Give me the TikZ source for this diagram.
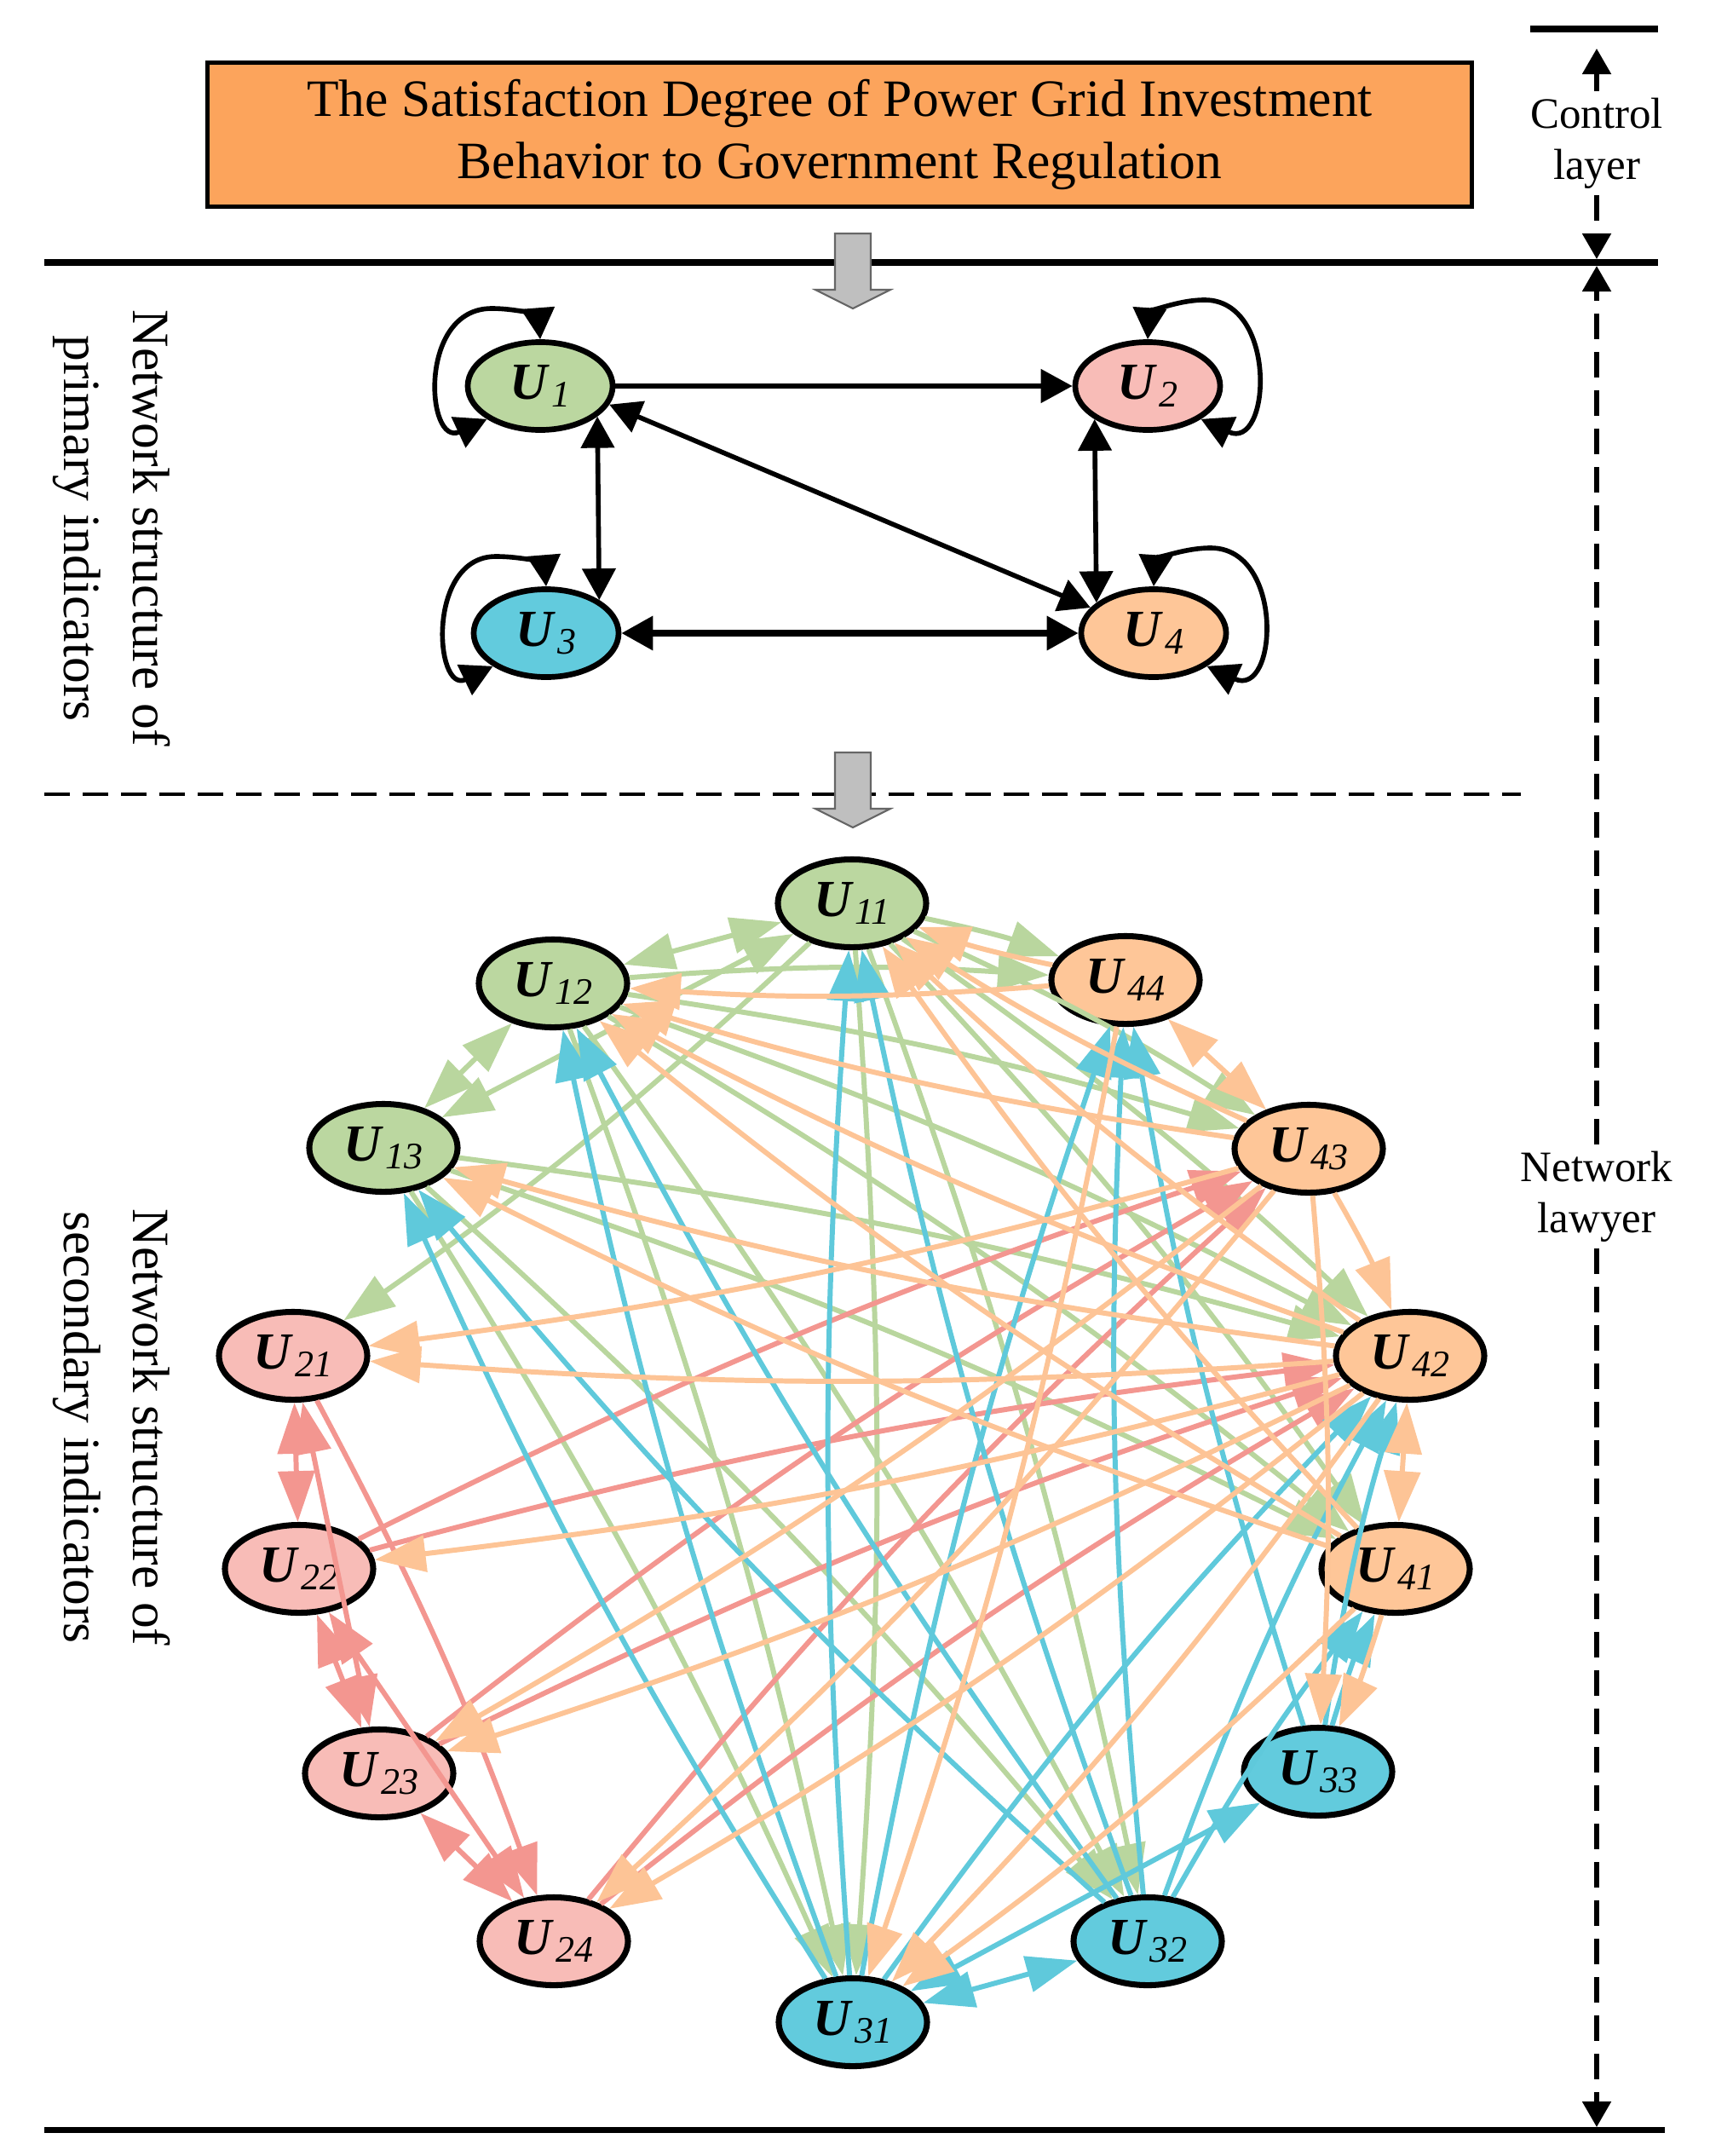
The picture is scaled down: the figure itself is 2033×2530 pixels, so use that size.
\documentclass[tikz,border=0pt]{standalone}
\usepackage{fontspec}
\setmainfont{Liberation Serif}
\usetikzlibrary{arrows.meta,shapes.geometric}
\definecolor{boxorange}{RGB}{252,164,92}
\definecolor{gfill}{RGB}{187,215,160}
\definecolor{pfill}{RGB}{248,188,183}
\definecolor{cfill}{RGB}{98,203,221}
\definecolor{ofill}{RGB}{254,198,152}
\definecolor{gline}{RGB}{185,214,158}
\definecolor{pline}{RGB}{243,150,144}
\definecolor{cline}{RGB}{95,201,219}
\definecolor{oline}{RGB}{253,196,150}
\newcommand{\ulab}[1]{\textbf{\textit{U}}\kern0.4pt\raisebox{-2.6pt}{\fontsize{12.5pt}{12.5pt}\selectfont\textit{#1}}}

\begin{document}
\begin{tikzpicture}[
        x=0.01cm, y=-0.01cm,
        every node/.style={inner sep=0pt},
        ind/.style={ellipse, draw=black, line width=2pt, minimum width=1.74cm, minimum height=1.03cm, font=\fontsize{17.4pt}{18pt}\selectfont},
        prim/.style={ind, line width=1.9pt, minimum width=1.70cm},
        goalbox/.style={draw, line width=1.4pt, fill=boxorange, minimum width=14.83cm, minimum height=1.69cm, align=center, font=\fontsize{17.5pt}{20.8pt}\selectfont},
        sidetext/.style={rotate=-90, align=center, font=\fontsize{17.5pt}{23pt}\selectfont},
        sidenote/.style={align=center, inner sep=0.07cm, font=\fontsize{14.5pt}{17pt}\selectfont},
        rule/.style={line width=2pt},
        ruledash/.style={line width=1.3pt, dash pattern=on 0.3cm off 0.15cm},
        vline/.style={line width=1.5pt, >={Triangle[length=0.3cm,width=0.33cm]}},
        vdash/.style={vline, dash pattern=on 0.3cm off 0.15cm},
        grayarrow/.style={draw=black!60, line width=0.6pt, fill=black!25},
        blackedge/.style={line width=1.6pt, >={Triangle[length=10.5pt,width=11pt]}},
        gedge/.style={draw=gline, line width=1.7pt, ->, bend left=4},
        pedge/.style={draw=pline, line width=1.7pt, ->, bend left=4},
        cedge/.style={draw=cline, line width=1.7pt, ->, bend left=4},
        oedge/.style={draw=oline, line width=1.7pt, ->, bend left=4},
        gboth/.style={draw=gline, line width=1.7pt, <->},
        pboth/.style={draw=pline, line width=1.7pt, <->},
        cboth/.style={draw=cline, line width=1.7pt, <->},
        oboth/.style={draw=oline, line width=1.7pt, <->}
    ]
    \useasboundingbox (0,0) rectangle (2033,2530);

    % control layer
    \node[goalbox] (goal) at (985.5,158) {The Satisfaction Degree of Power Grid Investment\\Behavior to Government Regulation};
    \node[sidenote] (ctrl) at (1874,168) {Control\\layer};
    \node[sidenote] (netw) at (1874,1404) {Network\\lawyer};
    \node[sidetext] (primtxt) at (131,620) {Network structure of\\primary indicators};
    \node[sidetext] (sectxt) at (131,1675) {Network structure of\\secondary indicators};

    \coordinate (t1) at (1796,34);
    \coordinate (t2) at (1946,34);
    \coordinate (a1) at (52,308);
    \coordinate (a2) at (1946,308);
    \coordinate (d1) at (52,932);
    \coordinate (d2) at (1785,932);
    \coordinate (b1) at (52,2499);
    \coordinate (b2) at (1954,2499);
    \draw[rule] (t1) -- (t2);
    \draw[rule] (a1) -- (a2);
    \draw[ruledash] (d1) -- (d2);
    \draw[rule] (b1) -- (b2);

    \coordinate (c0) at (1874,57);
    \coordinate (c1) at (1874,304);
    \coordinate (c2) at (1874,312);
    \coordinate (c3) at (1874,2496);
    \draw[vline, ->] (ctrl.north) -- (c0);
    \draw[vdash, ->] (ctrl.south) -- (c1);
    \draw[vdash, ->] (netw.north) -- (c2);
    \draw[vdash, ->] (netw.south) -- (c3);

    \foreach \y in {274,883}
        \draw[grayarrow] (980,\y) -- ++(42,0) -- ++(0,66) -- ++(23,0) -- ++(-44,22) -- ++(-44,-22) -- ++(23,0) -- cycle;

    % primary indicators
    \node[prim, fill=gfill] (U1) at (634,453) {\ulab{1}};
    \node[prim, fill=pfill] (U2) at (1347,453) {\ulab{2}};
    \node[prim, fill=cfill] (U3) at (641,743) {\ulab{3}};
    \node[prim, fill=ofill] (U4) at (1354,743) {\ulab{4}};
    \draw[blackedge, ->] (U1.east) -- (U2.west);
    \draw[blackedge, <->] (U1.-28) -- (U3.32);
    \draw[blackedge, <->] (U2.212) -- (U4.152);
    \draw[blackedge, <->] (U1.-15) -- (U4.158);
    \draw[blackedge, <->, line width=2.2pt] (U3.east) -- (U4.west);
    \draw[blackedge, <->] (U1.south west) .. controls (500,525) and (490,362) .. (577,362) .. controls (610,362) and (632,372) .. (U1.north);
    \draw[blackedge, <->] (U2.south east) .. controls (1492,530) and (1500,352) .. (1414,352) .. controls (1380,352) and (1349,368) .. (U2.north);
    \draw[blackedge, <->] (U3.south west) .. controls (510,815) and (500,653) .. (582,653) .. controls (617,653) and (639,663) .. (U3.north);
    \draw[blackedge, <->] (U4.south east) .. controls (1500,820) and (1508,643) .. (1421,643) .. controls (1387,643) and (1356,658) .. (U4.north);

    % secondary indicators
    \begin{scope}[>={Triangle[length=17pt,width=12pt]}]
        \node[ind, fill=gfill] (U11) at (1000,1060) {\ulab{11}};
        \node[ind, fill=gfill] (U12) at (649,1154) {\ulab{12}};
        \node[ind, fill=gfill] (U13) at (450,1347) {\ulab{13}};
        \node[ind, fill=pfill] (U21) at (344,1591) {\ulab{21}};
        \node[ind, fill=pfill] (U22) at (351,1841) {\ulab{22}};
        \node[ind, fill=pfill] (U23) at (445,2081) {\ulab{23}};
        \node[ind, fill=pfill] (U24) at (650,2278) {\ulab{24}};
        \node[ind, fill=cfill] (U31) at (1001,2373) {\ulab{31}};
        \node[ind, fill=cfill] (U32) at (1347,2278) {\ulab{32}};
        \node[ind, fill=cfill] (U33) at (1547,2079) {\ulab{33}};
        \node[ind, fill=ofill] (U41) at (1638,1841) {\ulab{41}};
        \node[ind, fill=ofill] (U42) at (1655,1591) {\ulab{42}};
        \node[ind, fill=ofill] (U43) at (1536,1348) {\ulab{43}};
        \node[ind, fill=ofill] (U44) at (1321,1150) {\ulab{44}};

        % green
        \draw[gboth] (U11) -- (U12);
        \draw[gboth] (U12) -- (U13);
        \draw[gboth] (U11) -- (U13);
        \foreach \t in {U21,U31,U32,U41,U42,U43,U44}
            \draw[gedge] (U11) to (\t);
        \foreach \t in {U31,U32,U41,U42,U43,U44}
            \draw[gedge] (U12) to (\t);
        \foreach \t in {U31,U32,U41,U42}
            \draw[gedge] (U13) to (\t);

        % pink
        \draw[pboth] (U21) -- (U22);
        \draw[pboth] (U22) -- (U23);
        \draw[pboth] (U23) -- (U24);
        \draw[pboth] (U21) -- (U23);
        \draw[pboth] (U22) -- (U24);
        \draw[pedge] (U21) to (U24);
        \foreach \s in {U22,U23,U24} {
            \draw[pedge] (\s) to (U42);
            \draw[pedge] (\s) to (U43);
        }

        % cyan
        \draw[cboth] (U31) -- (U32);
        \draw[cboth] (U31) -- (U33);
        \foreach \t in {U11,U12,U13,U44,U42}
            \draw[cedge] (U31) to (\t);
        \foreach \t in {U11,U12,U13,U44,U42,U41}
            \draw[cedge] (U32) to (\t);
        \foreach \t in {U44,U42,U41}
            \draw[cedge] (U33) to (\t);

        % orange
        \draw[oboth] (U44) -- (U43);
        \draw[oboth] (U42) -- (U41);
        \draw[oedge] (U43) to (U42);
        \foreach \t in {U11,U12,U31}
            \draw[oedge] (U44) to (\t);
        \foreach \t in {U11,U12,U21,U23,U24,U33}
            \draw[oedge] (U43) to (\t);
        \foreach \t in {U11,U12,U13,U21,U22,U23,U24,U31}
            \draw[oedge] (U42) to (\t);
        \foreach \t in {U11,U12,U13,U31,U33}
            \draw[oedge] (U41) to (\t);
    \end{scope}
\end{tikzpicture}
\end{document}
